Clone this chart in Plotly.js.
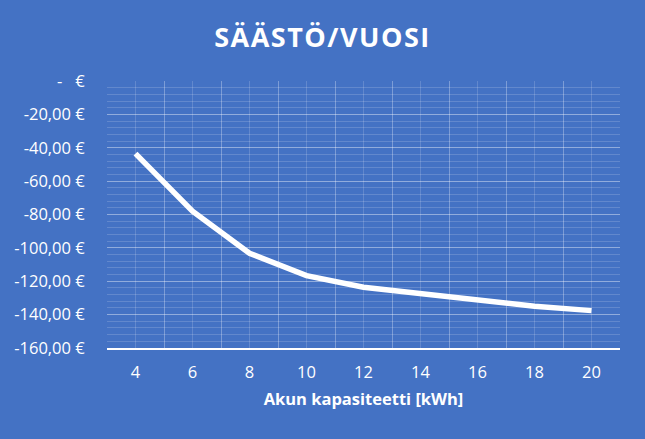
<!DOCTYPE html>
<html><head><meta charset="utf-8">
<script src="https://cdn.plot.ly/plotly-3.0.1.min.js"></script>
<style>
html,body{margin:0;padding:0;background:#4472C4;}
#chart{width:645px;height:439px;}
.gtitle{letter-spacing:1.5px;}
</style></head>
<body><div id="chart"></div>
<script>
const capacity = [4, 6, 8, 10, 12, 14, 16, 18, 20];
const savings = [-43.5, -78, -103.2, -116.6, -123.6, -127.6, -131, -135, -137.6];
const yTickVals = [0, -20, -40, -60, -80, -100, -120, -140, -160];
const yTickText = ["-   €", "-20,00 €", "-40,00 €", "-60,00 €", "-80,00 €", "-100,00 €", "-120,00 €", "-140,00 €", "-160,00 €"];
const xBoundaries = [3, 5, 7, 9, 11, 13, 15, 17, 19, 21];

const bg = '#4472C4';
const font = 'Open Sans, sans-serif';
const trace = {
  x: capacity, y: savings, type: 'scatter', mode: 'lines',
  line: {color: '#FFFFFF', width: 5.5}, hoverinfo: 'skip'
};
const layout = {
  width: 645, height: 439,
  paper_bgcolor: bg, plot_bgcolor: bg,
  margin: {l: 107, r: 25, t: 81, b: 91},
  showlegend: false,
  title: {text: 'SÄÄSTÖ/VUOSI', x: 0.5, xanchor: 'center', y: 0.915, yanchor: 'middle',
          font: {family: font, size: 27, color: '#FFFFFF', weight: 'bold'}},
  xaxis: {
    range: [3, 21], tickvals: capacity, ticktext: capacity.map(String),
    showgrid: true, gridcolor: 'rgba(255,255,255,0.16)', gridwidth: 1,
    minor: {tickvals: xBoundaries, showgrid: true, gridcolor: 'rgba(255,255,255,0.3)', gridwidth: 1},
    zeroline: false, showline: true, linecolor: '#FFFFFF', linewidth: 2,
    ticks: 'outside', ticklen: 8, tickcolor: 'rgba(0,0,0,0)',
    tickfont: {family: font, size: 16.5, color: '#FFFFFF'},
    title: {text: 'Akun kapasiteetti [kWh]', standoff: 12,
            font: {family: font, size: 16.5, color: '#FFFFFF', weight: 'bold'}},
    fixedrange: true
  },
  yaxis: {
    range: [-160, 0], tickvals: yTickVals, ticktext: yTickText,
    showgrid: true, gridcolor: 'rgba(255,255,255,0.3)', gridwidth: 1,
    minor: {dtick: 4, tick0: 0, showgrid: true, gridcolor: 'rgba(255,255,255,0.16)', gridwidth: 1},
    zeroline: false, showline: false,
    ticks: 'outside', ticklen: 18, tickcolor: 'rgba(0,0,0,0)',
    tickfont: {family: font, size: 16.5, color: '#FFFFFF'},
    fixedrange: true
  }
};
Plotly.newPlot('chart', [trace], layout, {displayModeBar: false, staticPlot: true});
</script></body></html>
